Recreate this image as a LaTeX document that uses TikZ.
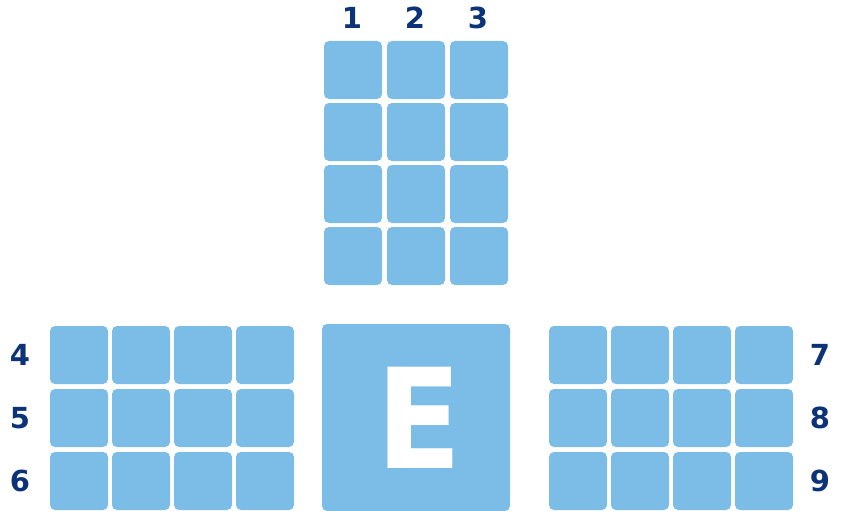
\documentclass[tikz,border=0pt]{standalone}
\usepackage{fontspec}
\setmainfont{DejaVu Sans}
\usepackage{xcolor}
\definecolor{tileblue}{RGB}{123,189,230}
\definecolor{labelnavy}{RGB}{12,50,120}
\usetikzlibrary{positioning}

\begin{document}
\begin{tikzpicture}[x=1pt, y=-1pt,
    tile/.style={fill=tileblue, rounded corners=5pt, minimum size=58pt, inner sep=0pt},
    numlabel/.style={text=labelnavy, font=\fontsize{29}{29}\selectfont\bfseries, inner sep=0pt}]
    \useasboundingbox (0,0) rectangle (841,511);
    % top block, three columns
    \foreach \c [count=\n] in {0,1,2} {
        \foreach \r in {0,1,2,3} {
            \node[tile] (top-\n-\r) at (353+63*\c, 70+62*\r) {};
        }
        \node[numlabel] (num-\n) at (352+63*\c, 18) {\n};
    }
    % side blocks
    \foreach \r [count=\n] in {0,1,2} {
        \foreach \c in {0,1,2,3} {
            \node[tile] (left-\n-\c) at (79+62*\c, 355+63*\r) {};
            \node[tile] (right-\n-\c) at (578+62*\c, 355+63*\r) {};
        }
        \pgfmathtruncatemacro{\lnum}{\n+3}
        \pgfmathtruncatemacro{\rnum}{\n+6}
        \node[numlabel] (num-\lnum) at (20, 355+63*\r) {\lnum};
        \node[numlabel] (num-\rnum) at (820, 355+63*\r) {\rnum};
    }
    % entrance
    \node[tile, minimum width=188pt, minimum height=187pt] (entrance) at (416,417.5) {};
    \node[text=white, font=\fontsize{139}{139}\selectfont\bfseries, inner sep=0pt, xscale=0.9]
        (elabel) at ([xshift=3pt]entrance.center) {E};
\end{tikzpicture}
\end{document}
